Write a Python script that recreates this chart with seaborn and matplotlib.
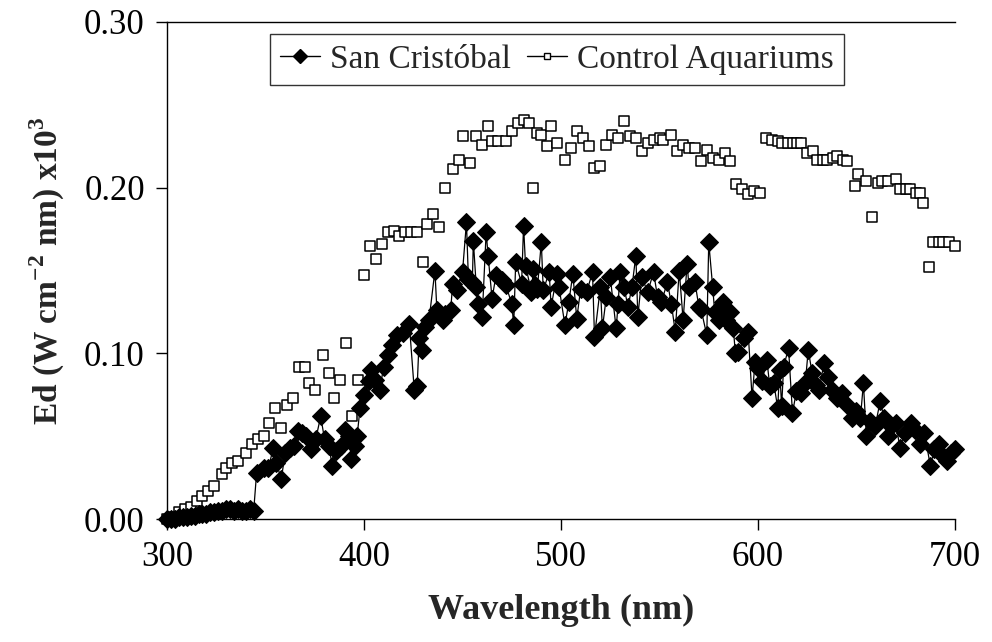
import matplotlib
matplotlib.use("Agg")
import matplotlib.pyplot as plt
from matplotlib.lines import Line2D
import seaborn as sns
import numpy as np

# San Cristóbal (filled diamonds, connected)
sc_nm = [300, 302, 304, 306, 308, 310, 312, 314, 316, 318, 320, 322, 324, 326, 328, 330,
         332, 334, 336, 338, 340, 342, 344,
         345.5, 349, 351.5, 354, 355.5, 358, 360, 362.5, 364.5, 366.5, 368.5, 370.5, 373,
         375.5, 378, 380, 382, 384, 386, 388.5, 390.5, 392.5, 393.5, 395.5, 396.5, 398, 400,
         402.5, 403.5, 405.5, 408, 410, 412, 414, 416.5, 420, 423, 425.5, 427, 428, 429.5,
         431, 433, 436, 437, 440, 441, 444, 445, 447, 450, 452, 453, 455, 455.5, 457, 458,
         460, 462, 463, 465, 467, 470, 472, 475, 476, 477, 480, 481, 482, 485, 486, 487, 488,
         490, 491, 494, 495, 498, 499, 502, 504, 506, 508, 510, 513, 516, 517, 520, 521, 523,
         525, 528, 529, 530, 532, 534, 536, 538, 539, 541, 544, 547, 549, 551, 554, 556, 558,
         560, 562, 564, 565, 568, 570, 571, 574, 575, 577, 578, 580, 582, 584, 586, 587.5,
         588.5, 590, 593, 595, 597, 598.5, 600, 602, 604.5, 606, 608, 610, 611, 612, 613,
         615.5, 617.5, 619.5, 622, 624, 625.5, 627.5, 629.5, 631, 633.5, 635.5, 637.5, 640,
         642.5, 645, 647.5, 649.5, 652, 653.5, 655, 657, 659.5, 662, 664, 666, 667.5, 670,
         672, 674.5, 677.5, 679.5, 682, 684.5, 687.5, 689.5, 692, 694, 696, 698, 700]
sc_val = [0.000, 0.000, 0.000, 0.001, 0.001, 0.001, 0.002, 0.002, 0.003, 0.003, 0.003, 0.004,
          0.004, 0.005, 0.005, 0.006, 0.006, 0.005, 0.006, 0.005, 0.005, 0.006, 0.005,
          0.028, 0.031, 0.031, 0.043, 0.034, 0.024, 0.040, 0.043, 0.044, 0.053, 0.052, 0.050,
          0.042, 0.048, 0.062, 0.048, 0.044, 0.032, 0.041, 0.044, 0.054, 0.050, 0.036, 0.044,
          0.050, 0.067, 0.075, 0.083, 0.090, 0.084, 0.078, 0.092, 0.099, 0.105, 0.111, 0.112,
          0.118, 0.078, 0.080, 0.109, 0.102, 0.116, 0.120, 0.150, 0.126, 0.120, 0.124, 0.126,
          0.142, 0.138, 0.149, 0.179, 0.145, 0.143, 0.168, 0.140, 0.130, 0.122, 0.173, 0.159,
          0.133, 0.147, 0.144, 0.141, 0.130, 0.117, 0.155, 0.142, 0.177, 0.153, 0.137, 0.151,
          0.141, 0.139, 0.167, 0.138, 0.149, 0.128, 0.148, 0.140, 0.117, 0.131, 0.148, 0.121,
          0.139, 0.137, 0.149, 0.110, 0.140, 0.115, 0.134, 0.146, 0.115, 0.130, 0.149, 0.140,
          0.128, 0.140, 0.159, 0.122, 0.146, 0.137, 0.149, 0.134, 0.131, 0.143, 0.130, 0.113,
          0.150, 0.120, 0.154, 0.140, 0.143, 0.128, 0.127, 0.111, 0.167, 0.140, 0.125, 0.120,
          0.131, 0.120, 0.125, 0.115, 0.100, 0.101, 0.109, 0.113, 0.073, 0.095, 0.091, 0.083,
          0.096, 0.080, 0.082, 0.067, 0.090, 0.068, 0.092, 0.103, 0.064, 0.077, 0.076, 0.082,
          0.102, 0.088, 0.081, 0.078, 0.094, 0.086, 0.078, 0.073, 0.076, 0.069, 0.061, 0.065,
          0.061, 0.082, 0.050, 0.059, 0.056, 0.071, 0.061, 0.050, 0.056, 0.058, 0.043, 0.052,
          0.058, 0.054, 0.045, 0.052, 0.032, 0.042, 0.045, 0.038, 0.035, 0.040, 0.042]

# Control Aquariums (open squares)
ca_nm = [300, 303, 306, 309, 312, 315, 318, 321, 324, 328, 330, 333, 336, 340, 343, 346, 349,
         352, 355, 358, 361, 364, 367, 370, 372, 375, 379, 382, 385, 388, 391, 394, 397, 400,
         403, 406, 409, 412, 415, 418, 421, 424, 427, 430, 432, 435, 438, 441, 445, 448, 450,
         454, 457, 460, 463, 465, 468, 472, 475, 478, 481, 484, 486, 488, 490, 493, 495, 498,
         502, 505, 508, 511, 514, 517, 520, 523, 526, 529, 532, 535, 538, 541, 544, 547, 550,
         552, 556, 559, 562, 565, 568, 571, 574, 577, 580, 583, 586, 589, 592, 595, 598, 601,
         604, 607, 610, 612, 615, 618, 620, 622, 625, 628, 630, 633, 635, 638, 640, 643, 645,
         649, 651, 655, 658, 661, 663, 666, 670, 672, 675, 677, 680, 682, 684, 687, 689, 692,
         694, 697, 700]
ca_val = [0.000, 0.001, 0.004, 0.006, 0.007, 0.011, 0.014, 0.017, 0.020, 0.027, 0.031, 0.034,
          0.035, 0.040, 0.045, 0.048, 0.050, 0.058, 0.067, 0.055, 0.069, 0.073, 0.092, 0.092,
          0.082, 0.078, 0.099, 0.088, 0.073, 0.084, 0.106, 0.062, 0.084, 0.147, 0.165, 0.157,
          0.166, 0.173, 0.174, 0.171, 0.173, 0.173, 0.173, 0.155, 0.178, 0.184, 0.176, 0.200,
          0.211, 0.217, 0.231, 0.215, 0.231, 0.226, 0.237, 0.228, 0.228, 0.228, 0.234, 0.239,
          0.241, 0.239, 0.200, 0.233, 0.232, 0.225, 0.237, 0.227, 0.217, 0.224, 0.234, 0.230,
          0.225, 0.212, 0.213, 0.226, 0.232, 0.230, 0.240, 0.231, 0.230, 0.222, 0.227, 0.229,
          0.230, 0.229, 0.232, 0.222, 0.226, 0.224, 0.224, 0.216, 0.223, 0.218, 0.217, 0.221,
          0.216, 0.202, 0.199, 0.196, 0.198, 0.197, 0.230, 0.229, 0.228, 0.227, 0.227, 0.227,
          0.227, 0.227, 0.221, 0.222, 0.217, 0.217, 0.217, 0.218, 0.219, 0.217, 0.216, 0.201,
          0.208, 0.204, 0.182, 0.203, 0.204, 0.204, 0.205, 0.199, 0.199, 0.199, 0.197, 0.197,
          0.191, 0.152, 0.167, 0.167, 0.167, 0.167, 0.165]

x_ticks = [300, 400, 500, 600, 700]
y_ticks = [0.00, 0.10, 0.20, 0.30]
series_names = ["San Cristóbal", "Control Aquariums"]

sns.set_theme(style="white")
plt.rcParams["font.family"] = ["Liberation Serif", "DejaVu Serif"]
plt.rcParams["mathtext.fontset"] = "custom"
plt.rcParams["mathtext.rm"] = "Liberation Serif"
plt.rcParams["mathtext.bf"] = "Liberation Serif:bold"

fig = plt.figure(figsize=(9.92, 6.42), dpi=100)
ax = fig.add_axes([167 / 992, 1 - 519 / 642, (955 - 167) / 992, (519 - 22) / 642])

sns.scatterplot(x=ca_nm, y=ca_val, ax=ax, marker="s", s=55, facecolor="white",
                edgecolor="black", linewidth=1.1, zorder=2, legend=False, clip_on=False)
sns.lineplot(x=sc_nm, y=sc_val, ax=ax, color="black", linewidth=0.9, marker="D",
             markersize=9, markerfacecolor="black", markeredgecolor="black",
             zorder=3, legend=False, sort=False, errorbar=None, clip_on=False)

ax.set_xlim(300, 700)
ax.set_ylim(0, 0.30)
ax.set_xticks(x_ticks)
ax.set_yticks(y_ticks)
ax.set_yticklabels([f"{v:.2f}" for v in y_ticks])
ax.tick_params(axis="both", direction="out", length=8, width=1, color="black",
               labelsize=25, labelcolor="black", pad=8, bottom=True, left=True)
for side in ["left", "bottom", "top", "right"]:
    ax.spines[side].set_color("black")
    ax.spines[side].set_linewidth(1.0)
ax.spines["right"].set_visible(False)

ax.set_xlabel("Wavelength (nm)", fontsize=26, fontweight="bold", labelpad=14)
ax.set_ylabel(r"Ed (W cm$^{\mathbf{-2}}$ nm) x10$^{\mathbf{3}}$", fontsize=24,
              fontweight="bold", labelpad=12)

handles = [
    Line2D([0], [0], color="black", lw=1, marker="D", markersize=7,
           markerfacecolor="black", markeredgecolor="black"),
    Line2D([0], [0], color="black", lw=1, marker="s", markersize=5,
           markerfacecolor="white", markeredgecolor="black"),
]
leg = ax.legend(handles, series_names, loc="upper center", bbox_to_anchor=(0.495, 0.975),
                ncol=2, frameon=True, fancybox=False, fontsize=24, handlelength=1.2,
                handletextpad=0.3, columnspacing=0.5, borderpad=0.3,
                borderaxespad=0.0)
leg.get_frame().set_edgecolor("black")
leg.get_frame().set_linewidth(1.0)

fig.savefig("out.png", dpi=100)
